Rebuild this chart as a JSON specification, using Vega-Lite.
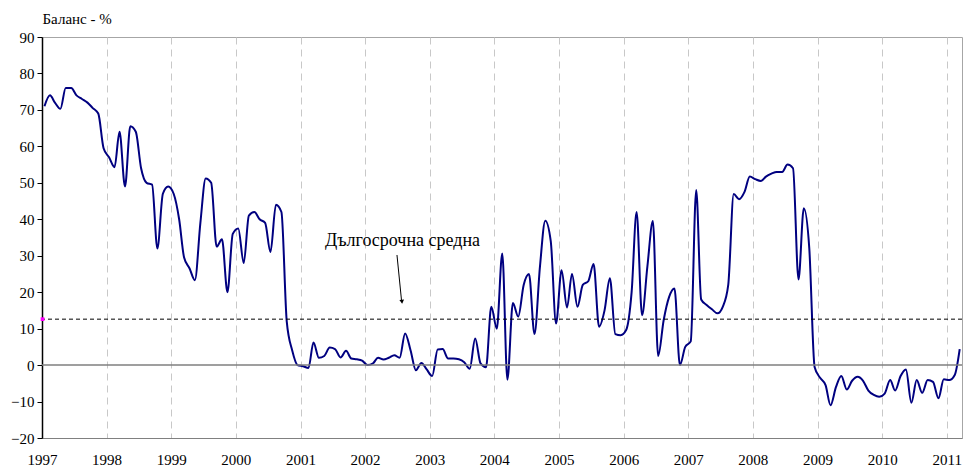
{
  "$schema": "https://vega.github.io/schema/vega-lite/v6.json",
  "width": 920,
  "height": 401,
  "autosize": {"type": "none"},
  "padding": {"left": 42, "top": 37, "right": 2, "bottom": 30},
  "background": "white",
  "config": {
    "view": {"stroke": "#a6a6a6", "strokeWidth": 1},
    "font": "Liberation Serif",
    "axis": {"labelFont": "Liberation Serif", "titleFont": "Liberation Serif", "labelColor": "black", "titleColor": "black", "labelFontSize": 15, "titleFontSize": 15, "labelOverlap": false}
  },
  "layer": [
    {
      "data": {"values": [
        {"date": "1997-01-15", "v": 71}, {"date": "1997-02-15", "v": 74}, {"date": "1997-03-15", "v": 72}, {"date": "1997-04-15", "v": 70.3},
        {"date": "1997-05-15", "v": 76}, {"date": "1997-06-15", "v": 76}, {"date": "1997-07-15", "v": 74}, {"date": "1997-08-15", "v": 73},
        {"date": "1997-09-15", "v": 72}, {"date": "1997-10-15", "v": 70.5}, {"date": "1997-11-15", "v": 69}, {"date": "1997-12-15", "v": 59.5},
        {"date": "1998-01-15", "v": 57}, {"date": "1998-02-15", "v": 54.3}, {"date": "1998-03-15", "v": 64}, {"date": "1998-04-15", "v": 49},
        {"date": "1998-05-15", "v": 65.5}, {"date": "1998-06-15", "v": 64}, {"date": "1998-07-15", "v": 54}, {"date": "1998-08-15", "v": 50},
        {"date": "1998-09-15", "v": 49.5}, {"date": "1998-10-15", "v": 32}, {"date": "1998-11-15", "v": 47}, {"date": "1998-12-15", "v": 49},
        {"date": "1999-01-15", "v": 47}, {"date": "1999-02-15", "v": 40}, {"date": "1999-03-15", "v": 29.5}, {"date": "1999-04-15", "v": 26.5},
        {"date": "1999-05-15", "v": 23.3}, {"date": "1999-06-15", "v": 39}, {"date": "1999-07-15", "v": 51.2}, {"date": "1999-08-15", "v": 50},
        {"date": "1999-09-15", "v": 32.5}, {"date": "1999-10-15", "v": 34.5}, {"date": "1999-11-15", "v": 20}, {"date": "1999-12-15", "v": 36},
        {"date": "2000-01-15", "v": 37.5}, {"date": "2000-02-15", "v": 28}, {"date": "2000-03-15", "v": 41}, {"date": "2000-04-15", "v": 42},
        {"date": "2000-05-15", "v": 40}, {"date": "2000-06-15", "v": 39}, {"date": "2000-07-15", "v": 31}, {"date": "2000-08-15", "v": 44},
        {"date": "2000-09-15", "v": 42}, {"date": "2000-10-15", "v": 12}, {"date": "2000-11-15", "v": 4}, {"date": "2000-12-15", "v": 0},
        {"date": "2001-01-15", "v": -0.3}, {"date": "2001-02-15", "v": -0.8}, {"date": "2001-03-15", "v": 6.2}, {"date": "2001-04-15", "v": 2},
        {"date": "2001-05-15", "v": 2.5}, {"date": "2001-06-15", "v": 4.8}, {"date": "2001-07-15", "v": 4.4}, {"date": "2001-08-15", "v": 2.1},
        {"date": "2001-09-15", "v": 3.9}, {"date": "2001-10-15", "v": 1.8}, {"date": "2001-11-15", "v": 1.6}, {"date": "2001-12-15", "v": 1.2},
        {"date": "2002-01-15", "v": 0}, {"date": "2002-02-15", "v": 0.5}, {"date": "2002-03-15", "v": 2}, {"date": "2002-04-15", "v": 1.5},
        {"date": "2002-05-15", "v": 2}, {"date": "2002-06-15", "v": 2.7}, {"date": "2002-07-15", "v": 2}, {"date": "2002-08-15", "v": 8.7},
        {"date": "2002-09-15", "v": 4}, {"date": "2002-10-15", "v": -1.4}, {"date": "2002-11-15", "v": 0.6}, {"date": "2002-12-15", "v": -1.2},
        {"date": "2003-01-15", "v": -3}, {"date": "2003-02-15", "v": 4.3}, {"date": "2003-03-15", "v": 4.4}, {"date": "2003-04-15", "v": 1.8},
        {"date": "2003-05-15", "v": 1.8}, {"date": "2003-06-15", "v": 1.6}, {"date": "2003-07-15", "v": 0.8}, {"date": "2003-08-15", "v": -1},
        {"date": "2003-09-15", "v": 7.3}, {"date": "2003-10-15", "v": 0.5}, {"date": "2003-11-15", "v": -0.6}, {"date": "2003-12-15", "v": 16},
        {"date": "2004-01-15", "v": 10}, {"date": "2004-02-15", "v": 30.6}, {"date": "2004-03-15", "v": -4}, {"date": "2004-04-15", "v": 17},
        {"date": "2004-05-15", "v": 13.3}, {"date": "2004-06-15", "v": 22}, {"date": "2004-07-15", "v": 25}, {"date": "2004-08-15", "v": 8.5},
        {"date": "2004-09-15", "v": 27}, {"date": "2004-10-15", "v": 39.6}, {"date": "2004-11-15", "v": 34}, {"date": "2004-12-15", "v": 11.4},
        {"date": "2005-01-15", "v": 26}, {"date": "2005-02-15", "v": 15.8}, {"date": "2005-03-15", "v": 25}, {"date": "2005-04-15", "v": 16},
        {"date": "2005-05-15", "v": 22}, {"date": "2005-06-15", "v": 23}, {"date": "2005-07-15", "v": 27.7}, {"date": "2005-08-15", "v": 10.5},
        {"date": "2005-09-15", "v": 15}, {"date": "2005-10-15", "v": 23.8}, {"date": "2005-11-15", "v": 8.5}, {"date": "2005-12-15", "v": 8.2},
        {"date": "2006-01-15", "v": 9.6}, {"date": "2006-02-15", "v": 20}, {"date": "2006-03-15", "v": 42}, {"date": "2006-04-15", "v": 13.7},
        {"date": "2006-05-15", "v": 27}, {"date": "2006-06-15", "v": 39.5}, {"date": "2006-07-15", "v": 2.5}, {"date": "2006-08-15", "v": 12.3},
        {"date": "2006-09-15", "v": 18.7}, {"date": "2006-10-15", "v": 21}, {"date": "2006-11-15", "v": 0}, {"date": "2006-12-15", "v": 5},
        {"date": "2007-01-15", "v": 6.5}, {"date": "2007-02-15", "v": 48}, {"date": "2007-03-15", "v": 18}, {"date": "2007-04-15", "v": 16.5},
        {"date": "2007-05-15", "v": 15.3}, {"date": "2007-06-15", "v": 14.2}, {"date": "2007-07-15", "v": 16}, {"date": "2007-08-15", "v": 22},
        {"date": "2007-09-15", "v": 46.9}, {"date": "2007-10-15", "v": 45.5}, {"date": "2007-11-15", "v": 47.5}, {"date": "2007-12-15", "v": 51.7},
        {"date": "2008-01-15", "v": 51}, {"date": "2008-02-15", "v": 50.5}, {"date": "2008-03-15", "v": 51.7}, {"date": "2008-04-15", "v": 52.5},
        {"date": "2008-05-15", "v": 53}, {"date": "2008-06-15", "v": 53}, {"date": "2008-07-15", "v": 55}, {"date": "2008-08-15", "v": 54},
        {"date": "2008-09-15", "v": 23.5}, {"date": "2008-10-15", "v": 43}, {"date": "2008-11-15", "v": 32}, {"date": "2008-12-15", "v": -0.5},
        {"date": "2009-01-15", "v": -3.5}, {"date": "2009-02-15", "v": -5.5}, {"date": "2009-03-15", "v": -11}, {"date": "2009-04-15", "v": -6},
        {"date": "2009-05-15", "v": -3}, {"date": "2009-06-15", "v": -6.7}, {"date": "2009-07-15", "v": -4.3}, {"date": "2009-08-15", "v": -3.2},
        {"date": "2009-09-15", "v": -4.3}, {"date": "2009-10-15", "v": -7}, {"date": "2009-11-15", "v": -8.2}, {"date": "2009-12-15", "v": -8.7},
        {"date": "2010-01-15", "v": -7.8}, {"date": "2010-02-15", "v": -4.1}, {"date": "2010-03-15", "v": -7}, {"date": "2010-04-15", "v": -3},
        {"date": "2010-05-15", "v": -1.2}, {"date": "2010-06-15", "v": -10.3}, {"date": "2010-07-15", "v": -4.1}, {"date": "2010-08-15", "v": -7.6},
        {"date": "2010-09-15", "v": -4.1}, {"date": "2010-10-15", "v": -4.6}, {"date": "2010-11-15", "v": -9.1}, {"date": "2010-12-15", "v": -3.9},
        {"date": "2011-01-15", "v": -4.1}, {"date": "2011-02-15", "v": -2.7}, {"date": "2011-03-15", "v": 4.4}
      ]},
      "mark": {"type": "line", "color": "#000080", "strokeWidth": 2, "interpolate": "monotone", "clip": true},
      "encoding": {
        "x": {
          "field": "date", "type": "temporal",
          "scale": {"type": "utc", "domain": [{"year": 1997, "month": 1, "date": 1, "utc": true}, {"year": 2011, "month": 3, "date": 28, "utc": true}]},
          "axis": {"title": null, "format": "%Y", "formatType": "utc", "grid": true, "gridColor": "#c8c8c8", "gridDash": [7, 5], "gridWidth": 1, "ticks": false, "domainColor": "#808080", "domainWidth": 1, "labelFont": "Liberation Serif", "labelFontSize": 15, "labelPadding": 14, "labelFlush": false, "labelOverlap": false}
        },
        "y": {
          "field": "v", "type": "quantitative",
          "scale": {"domain": [-20, 90], "nice": false, "zero": false},
          "axis": {"title": "Баланс - %", "titleAngle": 0, "titleAlign": "left", "titleBaseline": "alphabetic", "titleX": 0, "titleY": -14, "titleFontSize": 15, "titleFontWeight": "normal", "titleFont": "Liberation Serif", "values": [-20, -10, 0, 10, 20, 30, 40, 50, 60, 70, 80, 90], "grid": false, "domainColor": "black", "domainWidth": 1.5, "tickColor": "black", "tickSize": 5, "labelFont": "Liberation Serif", "labelFontSize": 15, "labelPadding": 3, "labelOverlap": false, "labelFlush": false}
        }
      }
    },
    {
      "data": {"values": [{"v": 0}]},
      "mark": {"type": "rule", "color": "#7f7f7f", "strokeWidth": 1.5},
      "encoding": {
        "y": {"field": "v", "type": "quantitative",
          "axis": {"title": "Баланс - %", "titleAngle": 0, "titleAlign": "left", "titleBaseline": "alphabetic", "titleX": 0, "titleY": -14, "titleFontSize": 15, "titleFontWeight": "normal", "titleFont": "Liberation Serif", "values": [-20, -10, 0, 10, 20, 30, 40, 50, 60, 70, 80, 90], "grid": false, "domainColor": "black", "domainWidth": 1.5, "tickColor": "black", "tickSize": 5, "labelFont": "Liberation Serif", "labelFontSize": 15, "labelPadding": 3, "labelOverlap": false, "labelFlush": false}}
      }
    },
    {
      "data": {"values": [{"v": 12.6}]},
      "mark": {"type": "rule", "color": "black", "strokeWidth": 1, "strokeDash": [4, 3]},
      "encoding": {
        "y": {"field": "v", "type": "quantitative",
          "axis": {"title": "Баланс - %", "titleAngle": 0, "titleAlign": "left", "titleBaseline": "alphabetic", "titleX": 0, "titleY": -14, "titleFontSize": 15, "titleFontWeight": "normal", "titleFont": "Liberation Serif", "values": [-20, -10, 0, 10, 20, 30, 40, 50, 60, 70, 80, 90], "grid": false, "domainColor": "black", "domainWidth": 1.5, "tickColor": "black", "tickSize": 5, "labelFont": "Liberation Serif", "labelFontSize": 15, "labelPadding": 3, "labelOverlap": false, "labelFlush": false}}
      }
    },
    {
      "data": {"values": [
        {"date": "1997-01-04", "v": 12.6, "kind": "marker"},
        {"date": "2002-07-31", "v": 34, "kind": "label", "label": "Дългосрочна средна"},
        {"date": "2002-06-30", "v": 30.2, "kind": "arrow", "date2": "2002-07-26", "v2": 17.6},
        {"date": "2002-07-28", "v": 17.4, "kind": "head"}
      ]},
      "encoding": {
        "x": {"field": "date", "type": "temporal",
          "axis": {"title": null, "format": "%Y", "formatType": "utc", "grid": true, "gridColor": "#c8c8c8", "gridDash": [7, 5], "gridWidth": 1, "ticks": false, "domainColor": "#808080", "domainWidth": 1, "labelFont": "Liberation Serif", "labelFontSize": 15, "labelPadding": 14, "labelFlush": false, "labelOverlap": false}},
        "y": {"field": "v", "type": "quantitative",
          "axis": {"title": "Баланс - %", "titleAngle": 0, "titleAlign": "left", "titleBaseline": "alphabetic", "titleX": 0, "titleY": -14, "titleFontSize": 15, "titleFontWeight": "normal", "titleFont": "Liberation Serif", "values": [-20, -10, 0, 10, 20, 30, 40, 50, 60, 70, 80, 90], "grid": false, "domainColor": "black", "domainWidth": 1.5, "tickColor": "black", "tickSize": 5, "labelFont": "Liberation Serif", "labelFontSize": 15, "labelPadding": 3, "labelOverlap": false, "labelFlush": false}}
      },
      "layer": [
        {
          "transform": [{"filter": "datum.kind === 'marker'"}],
          "mark": {"type": "square", "color": "#ff00ff", "size": 14, "opacity": 1}
        },
        {
          "transform": [{"filter": "datum.kind === 'label'"}],
          "mark": {"type": "text", "font": "Liberation Serif", "fontSize": 18, "color": "black", "align": "center", "baseline": "middle"},
          "encoding": {"text": {"field": "label"}}
        },
        {
          "transform": [{"filter": "datum.kind === 'arrow'"}],
          "mark": {"type": "rule", "color": "black", "strokeWidth": 1},
          "encoding": {"x2": {"field": "date2"}, "y2": {"field": "v2"}}
        },
        {
          "transform": [{"filter": "datum.kind === 'head'"}],
          "mark": {"type": "point", "shape": "triangle-down", "filled": true, "color": "black", "size": 22, "angle": -6, "opacity": 1}
        }
      ]
    }
  ]
}
